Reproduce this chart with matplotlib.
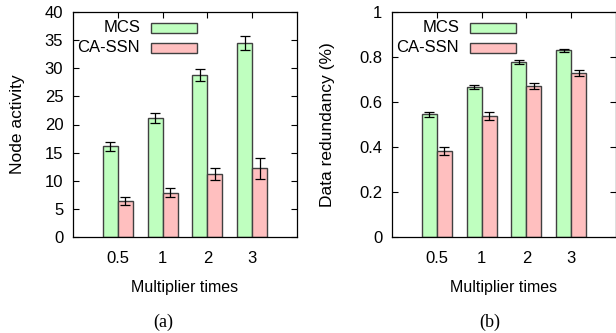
import matplotlib
matplotlib.use("Agg")
import matplotlib.pyplot as plt
import numpy as np
from matplotlib.patches import Rectangle

categories = ["0.5", "1", "2", "3"]
series_names = ["MCS", "CA-SSN"]

node_mcs = [16.1, 21.1, 28.8, 34.5]
node_mcs_err = [0.75, 0.9, 1.1, 1.3]
node_ca = [6.4, 7.9, 11.2, 12.2]
node_ca_err = [0.65, 0.85, 1.05, 1.9]

red_mcs = [0.545, 0.667, 0.778, 0.829]
red_mcs_err = [0.01, 0.009, 0.008, 0.006]
red_ca = [0.383, 0.539, 0.671, 0.728]
red_ca_err = [0.018, 0.018, 0.013, 0.014]

plt.rcParams['font.family'] = ['Liberation Sans', 'DejaVu Sans']

W, H = 616, 333
fig = plt.figure(figsize=(W / 100, H / 100), dpi=100)

green = '#bfffbf'
pink = '#ffbfbf'
edge = '#404040'

def panel(left_px, yvals_pairs, ylim, yticks, yticklabels, ylabel, ylabel_x, caption, caption_x):
    ax = fig.add_axes([left_px / W, (H - 237) / H, 224 / W, 225 / H])
    x = np.arange(1, len(categories) + 1)
    w = 1 / 3
    (v1, e1), (v2, e2) = yvals_pairs
    ax.bar(x - w / 2, v1, w, color=green, edgecolor=edge, linewidth=1.0, zorder=2)
    ax.bar(x + w / 2, v2, w, color=pink, edgecolor=edge, linewidth=1.0, zorder=2)
    ax.errorbar(x - w / 2, v1, yerr=e1, fmt='none', ecolor='black', elinewidth=0.9, capsize=3.5, capthick=0.9, zorder=3)
    ax.errorbar(x + w / 2, v2, yerr=e2, fmt='none', ecolor='black', elinewidth=0.9, capsize=3.5, capthick=0.9, zorder=3)
    ax.set_xlim(0, 5)
    ax.set_ylim(*ylim)
    ax.set_xticks(x)
    ax.set_xticklabels(categories)
    ax.set_yticks(yticks)
    ax.set_yticklabels(yticklabels)
    ax.tick_params(direction='in', length=4, width=0.8, top=True, right=True, labelsize=12)
    ax.tick_params(axis='y', pad=7)
    ax.tick_params(axis='x', pad=10)
    for s in ax.spines.values():
        s.set_linewidth(0.9)
    ax.set_ylabel(ylabel, fontsize=12.5)
    ax.yaxis.set_label_coords(ylabel_x, 0.5)
    ax.set_xlabel('Multiplier times', fontsize=11.5)
    ax.xaxis.set_label_coords(0.5, -0.19)
    # legend (gnuplot style: right-aligned text, swatch after)
    for i, (name, col) in enumerate(zip(series_names, [green, pink])):
        yc = 0.929 - i * 0.089
        ax.text(0.300, yc, name, transform=ax.transAxes, ha='right', va='center', fontsize=12)
        ax.add_patch(Rectangle((0.348, yc - 0.022), 0.206, 0.044, transform=ax.transAxes,
                               facecolor=col, edgecolor=edge, linewidth=1.0, zorder=4))
    fig.text(caption_x / W, 1 - 322 / H, caption,
             ha='center', va='center', fontsize=13, family=['Liberation Serif', 'DejaVu Serif'])
    return ax

axa = panel(73, [(node_mcs, node_mcs_err), (node_ca, node_ca_err)], (0, 40),
            [0, 5, 10, 15, 20, 25, 30, 35, 40], ['0', '5', '10', '15', '20', '25', '30', '35', '40'],
            'Node activity', -0.214, '(a)', 163)
axb = panel(392, [(red_mcs, red_mcs_err), (red_ca, red_ca_err)], (0, 1),
            [0, 0.2, 0.4, 0.6, 0.8, 1.0], ['0', '0.2', '0.4', '0.6', '0.8', '1'],
            'Data redundancy (%)', -0.254, '(b)', 490)

fig.savefig('out.png', dpi=100)
